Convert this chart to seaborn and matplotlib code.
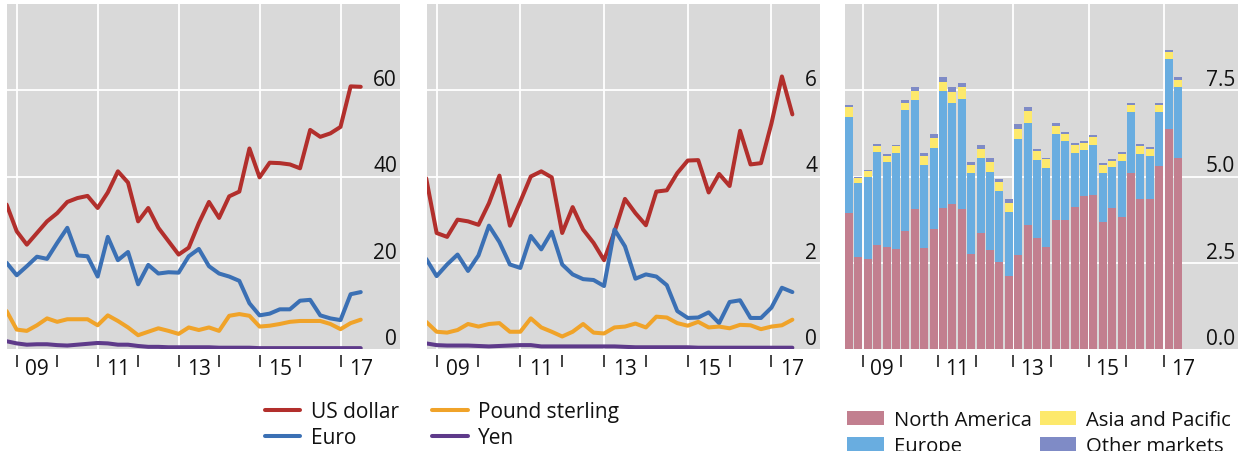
import numpy as np
import pandas as pd
import matplotlib
matplotlib.use("Agg")
import matplotlib.pyplot as plt
import seaborn as sns
from matplotlib.patches import Patch
from matplotlib.lines import Line2D

# quarters Q3 2008 .. Q2 2017
quarters = pd.period_range("2008Q3", "2017Q2", freq="Q")

# left panel: totals
usd_total = [33.5, 27.3, 24.2, 26.9, 29.6, 31.5, 34.1, 35.0, 35.5, 32.7, 36.3, 41.2,
             38.6, 29.6, 32.7, 28.1, 25.0, 21.9, 23.5, 29.2, 34.1, 30.4, 35.4, 36.5,
             46.5, 39.8, 43.2, 43.1, 42.8, 41.9, 50.8, 49.2, 50.0, 51.5, 60.9, 60.8]
eur_total = [20.0, 17.1, 19.2, 21.4, 20.9, 24.6, 28.1, 21.7, 21.5, 16.8, 26.0, 20.6,
             22.5, 15.0, 19.5, 17.5, 17.8, 17.7, 21.5, 23.2, 19.2, 17.5, 16.8, 15.8,
             10.6, 7.8, 8.2, 9.2, 9.2, 11.2, 11.4, 7.8, 7.1, 6.7, 12.7, 13.2]
gbp_total = [8.8, 4.5, 4.2, 5.5, 7.1, 6.3, 6.9, 6.9, 6.9, 5.5, 7.8, 6.5,
             5.0, 3.2, 4.0, 4.8, 4.2, 3.5, 5.0, 4.4, 5.0, 4.2, 7.7, 8.1,
             7.7, 5.2, 5.4, 5.8, 6.3, 6.5, 6.5, 6.5, 5.8, 4.6, 6.0, 6.8]
jpy_total = [1.8, 1.3, 1.0, 1.1, 1.1, 0.9, 0.8, 1.0, 1.2, 1.4, 1.3, 1.0,
             1.0, 0.7, 0.5, 0.5, 0.4, 0.4, 0.4, 0.4, 0.4, 0.3, 0.3, 0.3,
             0.3, 0.2, 0.2, 0.2, 0.2, 0.2, 0.2, 0.2, 0.2, 0.2, 0.2, 0.2]

# middle panel: averages
usd_avg = [3.96, 2.69, 2.60, 3.00, 2.96, 2.88, 3.38, 4.02, 2.86, 3.42, 4.00, 4.12,
           3.98, 2.69, 3.29, 2.77, 2.46, 2.06, 2.72, 3.48, 3.15, 2.87, 3.65, 3.68,
           4.08, 4.37, 4.38, 3.63, 4.06, 3.78, 5.06, 4.28, 4.31, 5.23, 6.32, 5.44]
eur_avg = [2.09, 1.69, 1.96, 2.19, 1.81, 2.17, 2.86, 2.48, 1.96, 1.88, 2.62, 2.31,
           2.72, 1.96, 1.73, 1.62, 1.60, 1.46, 2.77, 2.38, 1.63, 1.73, 1.68, 1.48,
           0.88, 0.72, 0.73, 0.85, 0.60, 1.09, 1.13, 0.72, 0.72, 0.96, 1.42, 1.32]
gbp_avg = [0.63, 0.40, 0.38, 0.44, 0.58, 0.52, 0.58, 0.60, 0.40, 0.40, 0.71, 0.50,
           0.40, 0.29, 0.40, 0.58, 0.38, 0.36, 0.50, 0.52, 0.59, 0.50, 0.75, 0.73,
           0.60, 0.54, 0.63, 0.50, 0.52, 0.48, 0.56, 0.55, 0.46, 0.52, 0.55, 0.68]
jpy_avg = [0.13, 0.09, 0.08, 0.08, 0.08, 0.07, 0.06, 0.07, 0.08, 0.09, 0.09, 0.06,
           0.06, 0.06, 0.06, 0.06, 0.06, 0.06, 0.06, 0.05, 0.04, 0.04, 0.04, 0.04,
           0.04, 0.04, 0.03, 0.03, 0.03, 0.03, 0.03, 0.03, 0.03, 0.03, 0.03, 0.03]

# right panel: by region
north_america = [3.95, 2.67, 2.60, 3.01, 2.96, 2.91, 3.42, 4.07, 2.92, 3.47, 4.08, 4.21,
                 4.05, 2.75, 3.36, 2.87, 2.53, 2.12, 2.73, 3.59, 3.22, 2.96, 3.73, 3.73,
                 4.13, 4.44, 4.46, 3.69, 4.08, 3.84, 5.11, 4.34, 4.36, 5.30, 6.37, 5.54]
europe = [2.78, 2.15, 2.39, 2.69, 2.45, 2.76, 3.50, 3.16, 2.42, 2.35, 3.39, 2.92,
          3.21, 2.34, 2.18, 2.26, 2.04, 1.86, 3.37, 2.97, 2.27, 2.30, 2.50, 2.30,
          1.56, 1.32, 1.44, 1.42, 1.19, 1.61, 1.75, 1.30, 1.24, 1.56, 2.05, 2.05]
asia_pacific = [0.28, 0.15, 0.16, 0.18, 0.19, 0.20, 0.22, 0.25, 0.25, 0.29, 0.27, 0.33,
                0.33, 0.24, 0.25, 0.29, 0.27, 0.25, 0.29, 0.33, 0.25, 0.24, 0.23, 0.19,
                0.22, 0.22, 0.24, 0.22, 0.19, 0.21, 0.20, 0.23, 0.20, 0.20, 0.19, 0.22]
other_markets = [0.05, 0.03, 0.04, 0.05, 0.05, 0.05, 0.09, 0.10, 0.10, 0.12, 0.14, 0.12,
                 0.11, 0.09, 0.11, 0.12, 0.09, 0.11, 0.14, 0.13, 0.07, 0.05, 0.08, 0.07,
                 0.07, 0.06, 0.06, 0.06, 0.06, 0.05, 0.06, 0.06, 0.05, 0.07, 0.07, 0.07]

currencies = ["US dollar", "Euro", "Pound sterling", "Yen"]
currency_colors = ["#b22f2c", "#3b70b4", "#f0a329", "#5e3a8a"]
regions = ["North America", "Europe", "Asia and Pacific", "Other markets"]
region_colors = ["#c27f8f", "#69ade0", "#fde96c", "#7f8bc6"]
year_labels = ["09", "11", "13", "15", "17"]

TXT = "#111111"
LW = 2.9
sns.set_style("darkgrid", {"axes.facecolor": "#d9d9d9", "grid.color": "white"})
plt.rcParams["font.family"] = ["Open Sans", "DejaVu Sans"]
plt.rcParams["text.color"] = TXT
plt.rcParams["xtick.color"] = TXT
plt.rcParams["xtick.labelcolor"] = TXT

q_end = quarters.year + quarters.quarter / 4.0
q_mid = quarters.year + (quarters.quarter - 0.5) / 4.0

fig = plt.figure(figsize=(12.4, 4.52), dpi=100)
W, H = 1240, 452


def add_ax(left, right, top=5, bottom=350):
    return fig.add_axes([left / W, 1 - bottom / H, (right - left) / W, (bottom - top) / H])


def style_axis(ax, xlim, ylim, yticks, ylabels):
    ax.set_xlim(*xlim)
    ax.set_ylim(*ylim)
    ax.grid(False)
    for s in ax.spines.values():
        s.set_visible(False)
    ax.spines["bottom"].set_position(("outward", 4))
    # year boundary ticks, labels in the middle of the year
    ax.set_xticks(np.arange(2009, 2018))
    ax.set_xticklabels([])
    ax.set_xticks([2009.5, 2011.5, 2013.5, 2015.5, 2017.5], minor=True)
    ax.set_xticklabels(year_labels, minor=True, fontsize=15)
    ax.tick_params(axis="x", which="major", bottom=True, length=8.5, width=1.1,
                   color=TXT, direction="out")
    ax.tick_params(axis="x", which="minor", bottom=True, length=0, pad=2.5)
    for yr in [2009, 2011, 2013, 2015, 2017]:
        ax.axvline(yr, color="white", lw=1.3, zorder=0.5)
    ax.set_yticks(yticks)
    ax.set_yticklabels([])
    ax.tick_params(axis="y", length=0)
    for v in yticks:
        if v > ylim[0]:
            ax.axhline(v, color="white", lw=1.3, zorder=0.5)
    for v, lab in zip(yticks, ylabels):
        ax.annotate(lab, xy=(1, v), xycoords=ax.get_yaxis_transform(),
                    xytext=(-3, 5), textcoords="offset pixels",
                    ha="right", va="baseline", fontsize=15, color=TXT)
    ax.set_xlabel("")
    ax.set_ylabel("")


def draw_lines(ax, series):
    df = pd.DataFrame({"date": np.tile(q_end, len(currencies)),
                       "currency": np.repeat(currencies, len(quarters)),
                       "value": np.concatenate(series)})
    sns.lineplot(data=df, x="date", y="value", hue="currency", hue_order=currencies,
                 palette=currency_colors, lw=LW, legend=False, ax=ax, zorder=3)


ax1 = add_ax(7, 400)
draw_lines(ax1, [usd_total, eur_total, gbp_total, jpy_total])
style_axis(ax1, (2008.76, 2018.47), (0, 80), [0, 20, 40, 60], ["0", "20", "40", "60"])

ax2 = add_ax(427, 820)
draw_lines(ax2, [usd_avg, eur_avg, gbp_avg, jpy_avg])
style_axis(ax2, (2008.77, 2018.16), (0, 8), [0, 2, 4, 6], ["0", "2", "4", "6"])

ax3 = add_ax(845, 1238)
stack = np.cumsum(np.array([north_america, europe, asia_pacific, other_markets]), axis=0)
# draw tallest layer first, then each lower layer on top of it
for level in range(len(regions) - 1, -1, -1):
    sns.barplot(x=q_mid, y=stack[level], native_scale=True, color=region_colors[level],
                saturation=1, width=0.84, edgecolor="none", linewidth=0, ax=ax3, zorder=2)
style_axis(ax3, (2008.52, 2018.97), (0, 10), [0, 2.5, 5.0, 7.5], ["0.0", "2.5", "5.0", "7.5"])

line_handles = [Line2D([], [], color=c, lw=LW) for c in currency_colors]
fig.legend(line_handles, currencies, loc="upper left", bbox_to_anchor=(265 / W, 1 - 402 / H),
           ncol=2, frameon=False, fontsize=15, handlelength=1.7, handletextpad=0.5,
           columnspacing=1.6, labelspacing=0.23, borderpad=0, borderaxespad=0)

patch_handles = [Patch(facecolor=c, edgecolor="none") for c in region_colors]
fig.legend(patch_handles, regions, loc="upper left", bbox_to_anchor=(847 / W, 1 - 411 / H),
           ncol=2, frameon=False, fontsize=14.6, handlelength=1.8, handleheight=0.75,
           handletextpad=0.5, columnspacing=0.4, labelspacing=0.3, borderpad=0,
           borderaxespad=0)

fig.savefig("out.png", dpi=100)
